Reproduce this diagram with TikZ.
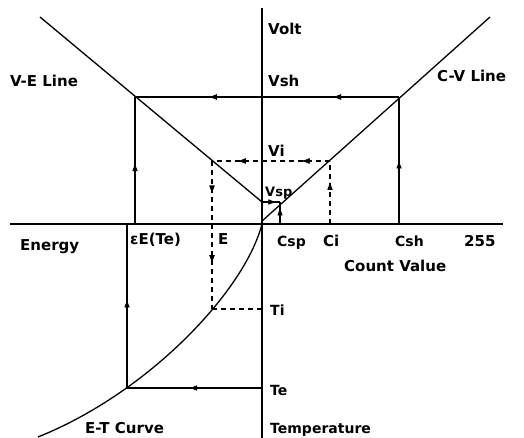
\documentclass[tikz,border=0pt]{standalone}
\usepackage{fontspec}
\setmainfont{DejaVu Sans}
\usetikzlibrary{arrows.meta,decorations.markings}
\tikzset{
  figaxis/.style={line width=1.6pt, black},
  figlines/.style={line width=1.3pt, black},
  figguide/.style={line width=1.3pt, black, dash pattern=on 5pt off 4pt},
  figlbl/.style={anchor=base west, inner sep=0pt, font=\fontsize{15}{15}\selectfont\bfseries},
  figsub/.style={anchor=base west, inner sep=0pt, font=\fontsize{14}{14}\selectfont\bfseries},
  arrowat/.style={postaction={decorate}, decoration={markings,
      mark=at position #1 with {\arrow[line width=0.6pt]{Latex[length=8pt,width=5.5pt]}}}},
}

\begin{document}
\begin{tikzpicture}[x=1pt,y=-1pt]
\useasboundingbox (0,0) rectangle (524,438);
% axes
\coordinate (O) at (262,224);
\coordinate (axT) at (262,8);
\coordinate (axB) at (262,438);
\coordinate (axL) at (10,224);
\coordinate (axR) at (503,224);
\draw[figaxis] (axT) -- (axB);
\draw[figaxis] (axL) -- (axR);
% lines and curve
\coordinate (cvA) at (262,221);
\coordinate (cvB) at (490,17);
\coordinate (veA) at (40,17);
\coordinate (veB) at (262,202);
\draw[figlines] (cvA) -- (cvB);
\draw[figlines] (veA) -- (veB);
\coordinate (Ri) at (212,309);
\coordinate (Re) at (127,388);
\coordinate (etEnd) at (38,437);
\draw[figlines] (O) .. controls (245,290) and (150,392) .. (etEnd);
% solid path (Csh, Te)
\coordinate (Csh) at (399,224);
\coordinate (Psh) at (399,97);
\coordinate (Qsh) at (135,97);
\coordinate (Eeps) at (135,224);
\coordinate (Te) at (262,388);
\coordinate (ETe) at (127,224);
\draw[figlines,arrowat=0.5] (Csh) -- (Psh);
\draw[figlines,arrowat=0.25,arrowat=0.72] (Psh) -- (Qsh);
\draw[figlines,arrowat=0.48] (Eeps) -- (Qsh);
\draw[figlines,arrowat=0.54] (Te) -- (Re);
\draw[figlines,arrowat=0.54] (Re) -- (ETe);
% dashed path (Ci, Ti)
\coordinate (Ci) at (330,224);
\coordinate (Pi) at (330,161);
\coordinate (Qi) at (212,161);
\coordinate (Ti) at (262,309);
\draw[figguide,arrowat=0.67] (Ci) -- (Pi);
\draw[figguide,arrowat=0.24,arrowat=0.78] (Pi) -- (Qi);
\draw[figguide,arrowat=0.22,arrowat=0.69] (Qi) -- (Ri);
\draw[figguide] (Ri) -- (Ti);
% small box at Csp
\coordinate (Csp) at (280,224);
\coordinate (Psp) at (280,202);
\draw[figlines,arrowat=0.75] (Csp) -- (Psp);
\draw[figlines,arrowat=0.8] (veB) -- (Psp);
% labels
\node[figlbl] (volt) at (268,35) {Volt};
\node[figlbl] (vsh) at (268,87) {Vsh};
\node[figlbl] (vi) at (268,157) {Vi};
\node[figsub,font=\fontsize{13}{13}\selectfont\bfseries] (vsp) at (265,197) {Vsp};
\node[figlbl] (veline) at (10,87) {V-E Line};
\node[figlbl] (cvline) at (437,82) {C-V Line};
\node[figlbl] (energy) at (20,251) {Energy};
\node[figlbl] (epsE) at (130,244) {εE(Te)};
\node[figlbl] (lblE) at (218,244) {E};
\node[figsub] (csp) at (277,246) {Csp};
\node[figlbl] (ci) at (323,246) {Ci};
\node[figsub] (csh) at (395,246) {Csh};
\node[figlbl] (max) at (464,246) {255};
\node[figlbl] (count) at (344,271) {Count Value};
\node[figsub] (ti) at (270,315) {Ti};
\node[figsub] (te) at (270,395) {Te};
\node[figsub] (temp) at (270,433) {Temperature};
\node[figlbl] (etcurve) at (85,433) {E-T Curve};
\end{tikzpicture}
\end{document}
